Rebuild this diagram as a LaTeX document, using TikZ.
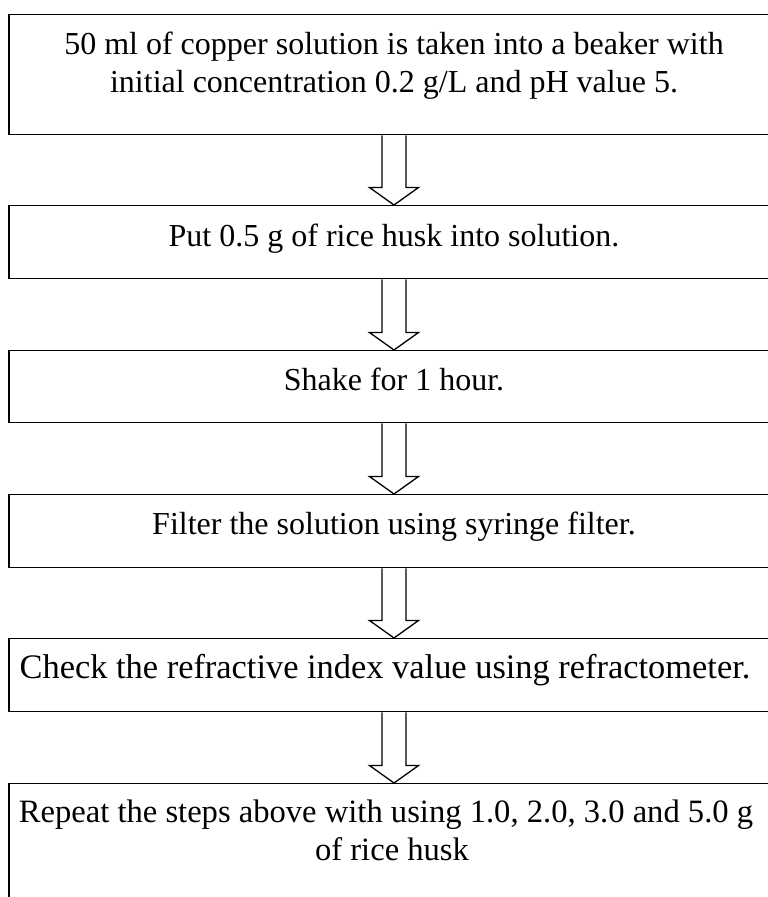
\documentclass[tikz,border=0pt]{standalone}
\usepackage{fontspec}
\setmainfont{Liberation Serif}
\usetikzlibrary{calc}

\tikzset{
  stepbox/.style={draw=black, line width=1.3pt, rectangle, inner sep=0pt,
    minimum width=770pt, anchor=north},
  steptext/.style={anchor=base, inner sep=0pt,
    font=\fontsize{32}{38}\selectfont},
  blockarrow/.style={draw=black, line width=1.3pt, fill=white, line join=miter}
}

% hollow block arrow from the bottom of one box to the top of the next
\newcommand\hollowarrow[2]{%
  \draw[blockarrow]
    ($(#1.south)+(-12,0)$) -- ($(#2.north)+(-12,-17.5)$)
    -- ++(-12.5,0) -- (#2.north) -- ++(24.5,-17.5) -- ++(-12.5,0)
    -- ($(#1.south)+(12,0)$);
}

\begin{document}
\begin{tikzpicture}[x=1pt,y=-1pt]
  \useasboundingbox (0,0) rectangle (768,897);
  \clip (0,0) rectangle (768,897);

  % boxes
  \node[stepbox, minimum height=120pt] (b1) at (394,14) {};
  \node[stepbox, minimum height=73pt]  (b2) at (394,205) {};
  \node[stepbox, minimum height=72pt]  (b3) at (394,350) {};
  \node[stepbox, minimum height=73pt]  (b4) at (394,494) {};
  \node[stepbox, minimum height=73pt]  (b5) at (394,638) {};
  \node[stepbox, minimum height=160pt] (b6) at (394,783) {};

  % texts
  \node[steptext] (t1) at (394,54)
    {\begin{tabular}[t]{@{}c@{}}50 ml of copper solution is taken into a beaker with\\
     initial concentration 0.2 g/L and pH value 5.\end{tabular}};
  \node[steptext] (t2) at (394,246) {Put 0.5 g of rice husk into solution.};
  \node[steptext] (t3) at (394,390) {Shake for 1 hour.};
  \node[steptext] (t4) at (394,534) {Filter the solution using syringe filter.};
  \node[steptext, font=\fontsize{34.4}{38}\selectfont] (t5) at (385,678)
    {Check the refractive index value using refractometer.};
  \node[steptext, font=\fontsize{32.6}{38}\selectfont] (t6) at (392,822)
    {\begin{tabular}[t]{@{}c@{}}Repeat the steps above with using 1.0, 2.0, 3.0 and 5.0 g\hspace*{12pt}\\
     of rice husk\end{tabular}};

  % arrows
  \hollowarrow{b1}{b2}
  \hollowarrow{b2}{b3}
  \hollowarrow{b3}{b4}
  \hollowarrow{b4}{b5}
  \hollowarrow{b5}{b6}
\end{tikzpicture}
\end{document}
